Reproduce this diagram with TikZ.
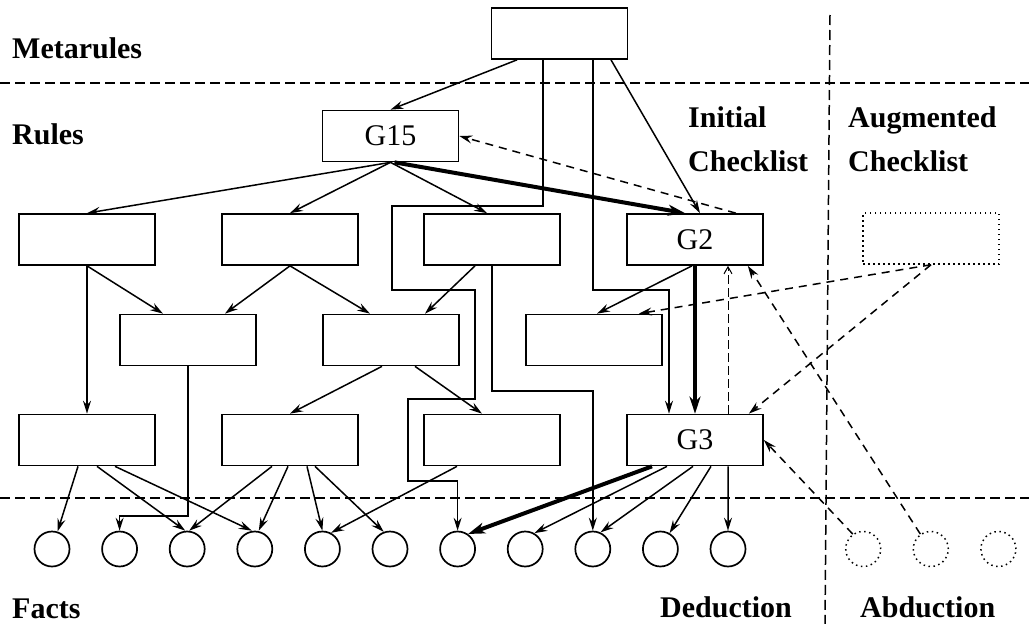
\documentclass[tikz,border=0pt]{standalone}
\usepackage{fontspec}
\setmainfont{Liberation Serif}
\usetikzlibrary{arrows.meta}
\begin{document}
\begin{tikzpicture}[x=1pt,y=-1pt,
  rulebox/.style={draw,line width=1.7pt,minimum width=136pt,minimum height=51pt,inner sep=0pt,font=\fontsize{30}{34}\selectfont},
  hypbox/.style={rulebox,line width=1.5pt,dash pattern=on 1.5pt off 3.5pt},
  fact/.style={draw,circle,line width=1.7pt,minimum size=35pt,inner sep=0pt},
  hypfact/.style={fact,line width=1.5pt,dash pattern=on 1.5pt off 3.5pt},
  lbl/.style={anchor=base west,inner sep=0pt,font=\fontsize{30}{34}\selectfont\bfseries},
  sep/.style={line width=1.5pt,dash pattern=on 10pt off 5pt},
  arr/.style={line width=1.5pt,-{Stealth[length=13pt,width=8pt,inset=4.5pt]}},
  strong/.style={line width=4pt,-{Stealth[length=17pt,width=11pt,inset=5pt]}},
  hint/.style={arr,dash pattern=on 8pt off 6pt},
  recheck/.style={line width=1pt,dash pattern=on 9pt off 4pt,-{Straight Barb[length=7pt,width=8pt]}}
]
\useasboundingbox (0,0) rectangle (1029,624);

% layer separators
\draw[sep] (0,83) -- (1029,83);
\draw[sep] (0,498) -- (1029,498);
\draw[sep] (830,15) -- (825,624);

% layer and column labels
\node[lbl] (tmeta) at (12,58) {Metarules};
\node[lbl] (trules) at (12,144) {Rules};
\node[lbl] (tinit1) at (688,127) {Initial};
\node[lbl] (tinit2) at (688,171) {Checklist};
\node[lbl] (taug1) at (848,127) {Augmented};
\node[lbl] (taug2) at (848,171) {Checklist};
\node[lbl] (tfacts) at (12,618) {Facts};
\node[lbl] (tded) at (660,617) {Deduction};
\node[lbl] (tabd) at (860,617) {Abduction};

% rule boxes
\node[rulebox] (meta) at (559.5,33.5) {};
\node[rulebox] (g15) at (390.5,136) {G15};
\node[rulebox] (r1a) at (87,239.5) {};
\node[rulebox] (r1b) at (290,239.5) {};
\node[rulebox] (r1c) at (492,239.5) {};
\node[rulebox] (g2)  at (695,239.5) {G2};
\node[rulebox] (r2a) at (188,340) {};
\node[rulebox] (r2b) at (391,340) {};
\node[rulebox] (r2c) at (594,340) {};
\node[rulebox] (r3a) at (87,440) {};
\node[rulebox] (r3b) at (290,440) {};
\node[rulebox] (r3c) at (492,440) {};
\node[rulebox] (g3)  at (695,440) {G3};
\node[hypbox]  (aug) at (931,238.5) {};

% facts
\foreach \i in {0,...,10}
  \node[fact] (f\i) at ({52+67.6*\i},549) {};
\foreach \i in {12,13,14}
  \node[hypfact] (f\i) at ({52+67.6*\i},549) {};

% metarules
\draw[arr] ([xshift=-42.5pt]meta.south) -- (g15.north);
\draw[arr] ([xshift=51.5pt]meta.south) -- ([xshift=5pt]g2.north);
\draw[arr] ([xshift=-16.5pt]meta.south) -- ++(0,146) -- ++(-151,0) -- ++(0,84)
  -- ++(83,0) -- ++(0,109) -- ++(-67,0) -- ++(0,82) -| (f6.north);
\draw[arr] ([xshift=33.5pt]meta.south) -- ++(0,230) -| ([xshift=-26pt]g3.north);

% G15 and first rule row
\draw[arr] (g15.south) -- (r1a.north);
\draw[arr] (g15.south) -- (r1b.north);
\draw[arr] (g15.south) -- ([xshift=-5pt]r1c.north);
\draw[strong] ([xshift=4pt]g15.south) -- ([xshift=-10pt]g2.north);
\draw[hint] ([xshift=-28pt]g2.north east) -- (g15.east);

% first to second row
\draw[arr] (r1a.south) -- ([xshift=-25pt]r2a.north);
\draw[arr] (r1a.south) -- (r3a.north);
\draw[arr] (r1b.south) -- ([xshift=37pt]r2a.north);
\draw[arr] (r1b.south) -- ([xshift=-21pt]r2b.north);
\draw[arr] ([xshift=-17pt]r1c.south) -- ([xshift=34pt]r2b.north);
\draw[arr] ([xshift=-3pt]g2.south) -- ([xshift=3pt]r2c.north);
\draw[strong] (g2.south) -- (g3.north);
\draw[recheck] ([xshift=33pt]g3.north) -- ([xshift=33pt]g2.south);
\draw[arr] (r1c.south) -- ++(0,125) -| (f8.north);

% second to third row
\draw[arr] ([xshift=-9pt]r2b.south) -- (r3b.north);
\draw[arr] ([xshift=24pt]r2b.south) -- ([xshift=-10pt]r3c.north);
\draw[arr] (r2a.south) -- ++(0,149.5) -| (f1.north);

% third row to facts
\draw[arr] ([xshift=-9pt]r3a.south) -- (f0);
\draw[arr] ([xshift=10pt]r3a.south) -- ([xshift=-2pt]f2.north);
\draw[arr] ([xshift=28pt]r3a.south) -- ([xshift=-3pt]f3.north);
\draw[arr] ([xshift=-18pt]r3b.south) -- ([xshift=2pt]f2.north);
\draw[arr] ([xshift=-2pt]r3b.south) -- ([xshift=4pt]f3.north);
\draw[arr] ([xshift=17pt]r3b.south) -- (f4.north);
\draw[arr] ([xshift=25pt]r3b.south) -- (f5.110);
\draw[arr] ([xshift=-35pt]r3c.south) -- (f4.62);
\draw[strong] ([xshift=-43pt]g3.south) -- (f6.55);
\draw[arr] ([xshift=-28pt]g3.south) -- (f7.60);
\draw[arr] ([xshift=-2pt]g3.south) -- (f8.65);
\draw[arr] ([xshift=16pt]g3.south) -- (f9.60);
\draw[arr] ([xshift=33pt]g3.south) -- (f10.north);

% abduction
\draw[hint] (aug.south) -- ([xshift=-24pt]r2c.north east);
\draw[hint] (aug.south) -- ([xshift=-15pt]g3.north east);
\draw[hint] (f12.125) -- (g3.east);
\draw[hint] (f13.125) -- ([xshift=-16pt]g2.south east);
\end{tikzpicture}
\end{document}
